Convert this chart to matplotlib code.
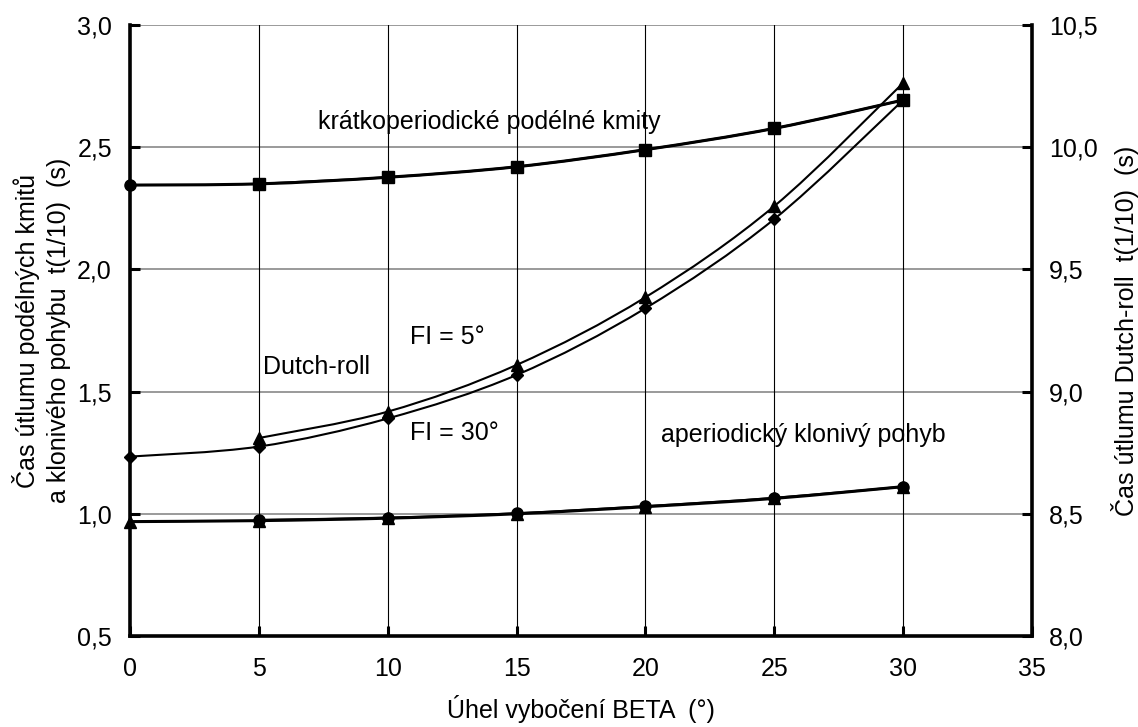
import matplotlib
matplotlib.use("Agg")
import matplotlib.pyplot as plt
from matplotlib.path import Path
from matplotlib.patches import PathPatch

plt.rcParams['font.family'] = ['Liberation Sans', 'DejaVu Sans']

# ---- data (left axis) ----
beta_sp_circ = [0, 5, 10, 15, 20, 25, 30]
sp_circ = [2.345, 2.35, 2.377, 2.42, 2.49, 2.577, 2.693]
beta_sp_sq = [5, 10, 15, 20, 25, 30]
sp_sq = [2.35, 2.377, 2.42, 2.49, 2.577, 2.693]

beta_ap_tri = [0, 5, 10, 15, 20, 25, 30]
ap_tri = [0.968, 0.972, 0.982, 1.0, 1.029, 1.063, 1.111]
beta_ap_circ = [5, 10, 15, 20, 25, 30]
ap_circ = [0.975, 0.984, 1.002, 1.031, 1.065, 1.111]

# ---- data (right axis, Dutch-roll) ----
beta_dr5 = [5, 10, 15, 20, 25, 30]
dr_fi5 = [8.81, 8.918, 9.109, 9.386, 9.759, 10.263]
beta_dr30 = [0, 5, 10, 15, 20, 25, 30]
dr_fi30 = [8.734, 8.775, 8.89, 9.068, 9.341, 9.706, 10.193]

x_ticks = [0, 5, 10, 15, 20, 25, 30, 35]
y_left_ticks = [0.5, 1.0, 1.5, 2.0, 2.5, 3.0]
y_right_ticks = [8.0, 8.5, 9.0, 9.5, 10.0, 10.5]


def smooth_path(ax, xs, ys, lw):
    n = len(xs)
    pts = list(zip(xs, ys))
    verts = [pts[0]]
    codes = [Path.MOVETO]
    for i in range(n - 1):
        p0 = pts[i - 1] if i > 0 else pts[i]
        p1 = pts[i]
        p2 = pts[i + 1]
        p3 = pts[i + 2] if i + 2 < n else pts[i + 1]
        c1 = (p1[0] + (p2[0] - p0[0]) / 6, p1[1] + (p2[1] - p0[1]) / 6)
        c2 = (p2[0] - (p3[0] - p1[0]) / 6, p2[1] - (p3[1] - p1[1]) / 6)
        verts += [c1, c2, p2]
        codes += [Path.CURVE4] * 3
    patch = PathPatch(Path(verts, codes), facecolor='none', edgecolor='black',
                      lw=lw, transform=ax.transData, zorder=3, capstyle='round',
                      joinstyle='round')
    patch.set_clip_on(False)
    ax.add_patch(patch)


fig = plt.figure(figsize=(11.38, 7.27), dpi=100)
ax = fig.add_axes([0.1142, 0.1252, 0.9069 - 0.1142, 0.9656 - 0.1252])
ax2 = ax.twinx()

ax.set_xlim(0, 35)
ax.set_ylim(0.5, 3.0)
ax2.set_ylim(8.0, 10.5)

# grid
for yv in y_left_ticks[1:]:
    ax.axhline(yv, color='#7f7f7f', lw=1.1, zorder=1)
for xv in x_ticks[1:-1]:
    ax.axvline(xv, color='black', lw=0.8, zorder=1)

# curves
smooth_path(ax, beta_sp_circ, sp_circ, 2.2)
smooth_path(ax, beta_sp_sq, sp_sq, 1.6)
smooth_path(ax, beta_ap_tri, ap_tri, 2.2)
smooth_path(ax, beta_ap_circ, ap_circ, 1.6)
smooth_path(ax2, beta_dr5, dr_fi5, 1.5)
smooth_path(ax2, beta_dr30, dr_fi30, 1.5)

mk = dict(linestyle='none', color='black', zorder=5, clip_on=False)
ax.plot(beta_sp_circ, sp_circ, marker='o', markersize=8, **mk)
ax.plot(beta_sp_sq, sp_sq, marker='s', markersize=9, **mk)
ax.plot(beta_ap_tri, ap_tri, marker='^', markersize=9, **mk)
ax.plot(beta_ap_circ, ap_circ, marker='o', markersize=8, **mk)
ax2.plot(beta_dr5, dr_fi5, marker='^', markersize=9, **mk)
ax2.plot(beta_dr30, dr_fi30, marker='D', markersize=6.5, **mk)

# ticks
fs = 18
ax.set_xticks(x_ticks)
ax.set_xticklabels([str(v) for v in x_ticks], fontsize=fs)
ax.set_yticks(y_left_ticks)
ax.set_yticklabels([f"{v:.1f}".replace('.', ',') for v in y_left_ticks], fontsize=fs)
ax2.set_yticks(y_right_ticks)
ax2.set_yticklabels([f"{v:.1f}".replace('.', ',') for v in y_right_ticks], fontsize=fs)

ax.tick_params(axis='both', direction='in', length=7, width=2.2)
ax.tick_params(axis='x', pad=15, top=False)
ax.tick_params(axis='y', pad=13)
ax2.tick_params(axis='y', direction='in', length=7, width=2.2, pad=12)

for a in (ax, ax2):
    a.spines['top'].set_visible(False)
    for s in ('left', 'right', 'bottom'):
        a.spines[s].set_linewidth(2.6)
ax2.spines['left'].set_visible(False)
ax2.spines['bottom'].set_visible(False)
ax.spines['right'].set_visible(False)

ax.set_xlabel('Úhel vybočení BETA  (°)', fontsize=fs, labelpad=10)
ax.set_ylabel('Čas útlumu podélných kmitů\na klonivého pohybu  t(1/10)  (s)',
              fontsize=fs, labelpad=4, linespacing=1.4)
ax2.set_ylabel('Čas útlumu Dutch-roll  t(1/10)  (s)', fontsize=fs, labelpad=10)

# annotations
ax.text(7.31, 2.603, 'krátkoperiodické podélné kmity', fontsize=fs, va='center', ha='left')
ax.text(5.17, 1.60, 'Dutch-roll', fontsize=fs, va='center', ha='left')
ax.text(10.88, 1.723, 'FI = 5°', fontsize=fs, va='center', ha='left')
ax.text(10.88, 1.33, 'FI = 30°', fontsize=fs, va='center', ha='left')
ax.text(20.6, 1.322, 'aperiodický klonivý pohyb', fontsize=fs, va='center', ha='left')

fig.savefig('out.png', dpi=100)
